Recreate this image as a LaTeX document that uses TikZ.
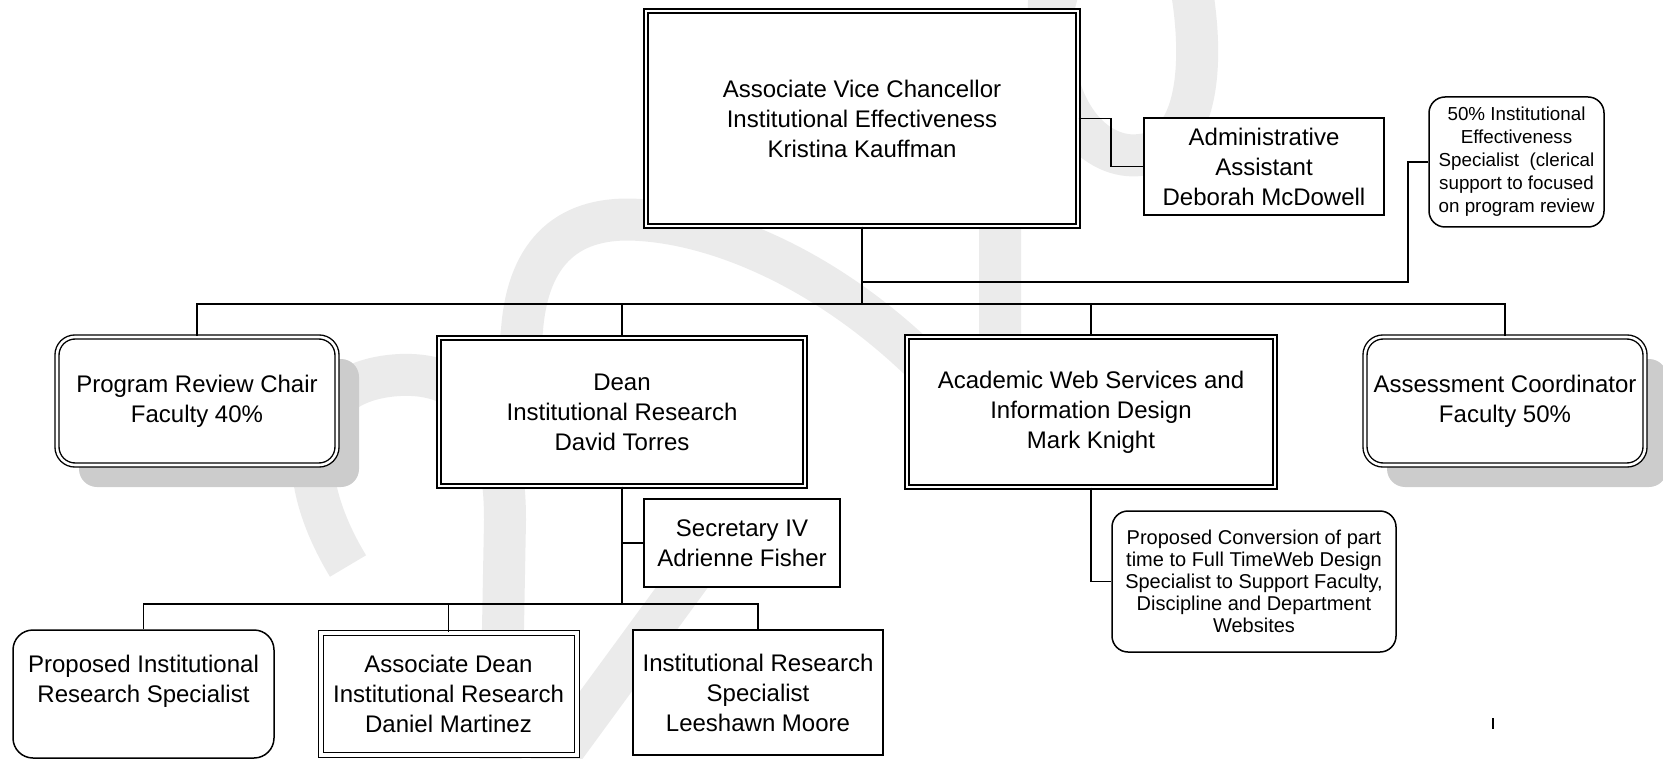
\documentclass[tikz,border=0pt]{standalone}
\usepackage{fontspec}
\setmainfont{Liberation Sans}
\usetikzlibrary{positioning,shadows}

\begin{document}
\begin{tikzpicture}[x=0.5pt,y=-0.5pt,line width=0.8pt,
                    font=\fontsize{12}{15}\selectfont,
                    box node/.style={rectangle,draw,fill=white,align=center,inner sep=0pt,line width=0.75pt},
                    main node/.style={box node,double,double distance=1.3pt,line width=0.7pt},
                    thin node/.style={box node,double,double distance=2pt,line width=0.5pt},
                    note node/.style={box node,rounded corners=8pt},
                    chair node/.style={main node,rounded corners=9pt,
                      drop shadow={shadow xshift=11pt,shadow yshift=-11pt,fill=black!20,opacity=1}},
                    wm band/.style={line width=21pt,black!8}]

  \useasboundingbox (0,0) rectangle (1663,759);

  % watermark
  \draw[wm band] (348,566) .. controls (290,470) and (300,380) .. (400,375)
              .. controls (470,372) and (505,420) .. (505,520) -- (500,790);
  \draw[wm band] (512,420) -- (522,330) .. controls (528,250) and (570,215) .. (640,220)
              .. controls (720,225) and (830,270) .. (930,370);
  \draw[wm band] (541,780) -- (702,560);
  \draw[wm band] (1000,360) -- (1000,220) .. controls (1000,120) and (1050,40) .. (1060,-20);
  \draw[wm band] (1050,-20) .. controls (1040,120) and (1100,160) .. (1140,155)
              .. controls (1200,150) and (1205,60) .. (1190,-20);

  % top level
  \node[main node,minimum width=216pt,minimum height=107.5pt] (avc) at (862,118.5)
    {Associate Vice Chancellor\\Institutional Effectiveness\\Kristina Kauffman};
  \node[box node,minimum width=120pt,minimum height=48.5pt] (admin) at (1264,166.5)
    {Administrative\\Assistant\\Deborah McDowell};
  \node[note node,minimum width=87.5pt,minimum height=65pt,font=\fontsize{9.4}{11.5}\selectfont] (clerk) at (1516.5,162)
    {50\% Institutional\\Effectiveness\\Specialist\ \ (clerical\\support to focused\\on program review};

  % second level
  \node[chair node,minimum width=140pt,minimum height=64pt] (chair) at (197,401)
    {Program Review Chair\\Faculty 40\%};
  \node[main node,minimum width=183pt,minimum height=74pt] (dean) at (622,412)
    {Dean\\Institutional Research\\David Torres};
  \node[main node,minimum width=184pt,minimum height=75pt] (web) at (1091,412)
    {Academic Web Services and\\Information Design\\Mark Knight};
  \node[chair node,minimum width=140pt,minimum height=64pt] (assess) at (1505,401)
    {Assessment Coordinator\\Faculty 50\%};

  \node[box node,minimum width=98pt,minimum height=44pt] (sec) at (742,543)
    {Secretary IV\\Adrienne Fisher};
  \node[note node,minimum width=142pt,minimum height=70.5pt,font=\fontsize{10}{11}\selectfont] (conv) at (1254,581.5)
    {Proposed Conversion of part\\time to Full TimeWeb Design\\Specialist to Support Faculty,\\Discipline and Department\\Websites};

  % third level
  \node[note node,rounded corners=10pt,minimum width=130.5pt,minimum height=64pt] (propir) at (143.5,694)
    {Proposed Institutional\\Research Specialist\\~};
  \node[thin node,minimum width=128pt,minimum height=61pt] (assocdean) at (448.5,693.5)
    {Associate Dean\\Institutional Research\\Daniel Martinez};
  \node[box node,minimum width=125pt,minimum height=62.5pt] (irspec) at (758,692.5)
    {Institutional Research\\Specialist\\Leeshawn Moore};

  \coordinate (bus2) at (862,304);
  \coordinate (bus3) at (622,604);
  \coordinate (turn) at (1408,282);

  \draw (avc.east) -- ++(32,0) |- (admin.west);
  \draw (avc.south) |- (turn) |- (clerk.west);
  \draw (avc.south) -- (bus2);
  \foreach \n in {chair,dean,web,assess}
    \draw (bus2) -| (\n.north);
  \draw (dean.south) |- (sec.west);
  \draw (dean.south) -- (bus3);
  \foreach \n in {propir,assocdean,irspec}
    \draw (bus3) -| (\n.north);
  \draw (web.south) |- (conv.west);

  \draw[line width=1pt] (1493,718) -- (1493,729);
\end{tikzpicture}
\end{document}
